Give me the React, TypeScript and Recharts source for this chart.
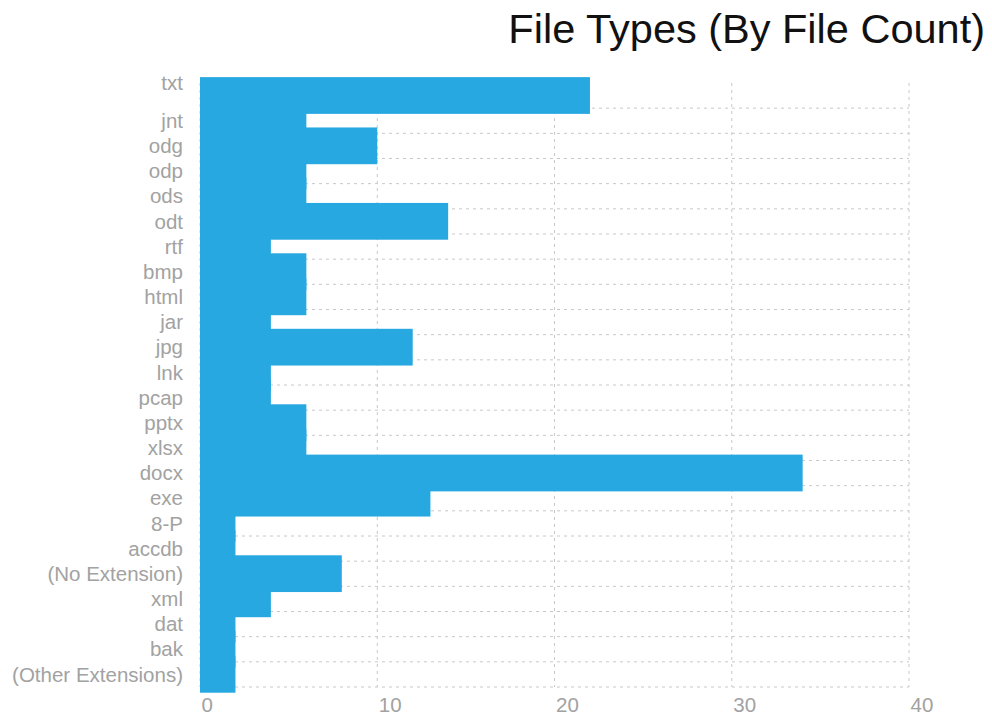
import React from "react";
import { BarChart, Bar, XAxis, YAxis, CartesianGrid } from "recharts";

const extensions = [
  "txt",
  "jnt",
  "odg",
  "odp",
  "ods",
  "odt",
  "rtf",
  "bmp",
  "html",
  "jar",
  "jpg",
  "lnk",
  "pcap",
  "pptx",
  "xlsx",
  "docx",
  "exe",
  "8-P",
  "accdb",
  "(No Extension)",
  "xml",
  "dat",
  "bak",
  "(Other Extensions)",
];
const fileCounts = [22, 6, 10, 6, 6, 14, 4, 6, 6, 4, 12, 4, 4, 6, 6, 34, 13, 2, 2, 8, 4, 2, 2, 2];
const countTicks = [0, 10, 20, 30, 40];

const BAR_COLOR = "#27a8e0";
const LABEL_COLOR = "#a2a2a2";
const FONT = "'Liberation Sans', Arial, sans-serif";

// bars in the original are taller than their band and overlap the neighbours
function TallBar(props: any) {
  const { x, y, width, height, fill } = props;
  if (!width || width <= 0) return null;
  const grow = height * 0.235;
  return <rect x={x} y={y - grow} width={width} height={height + grow * 2} fill={fill} />;
}

function CategoryTick(props: any) {
  const { x, y, payload, index } = props;
  // the first label sits at the top edge of the plot, not centred in its band
  const shift = index === 0 ? -12.5 : 0;
  return (
    <text
      x={x}
      y={y + shift}
      dy="0.35em"
      textAnchor="end"
      fill={LABEL_COLOR}
      fontSize={20.5}
      fontFamily={FONT}
    >
      {payload.value}
    </text>
  );
}

function CountTick(props: any) {
  const { x, y, payload } = props;
  return (
    <text x={x + 1.5} y={y + 25} textAnchor="start" fill={LABEL_COLOR} fontSize={20.5} fontFamily={FONT}>
      {payload.value}
    </text>
  );
}

export default function App() {
  const data = extensions.map((name, i) => ({ name, count: fileCounts[i] }));
  const n = extensions.length;

  return (
    <div style={{ position: "absolute", left: 0, top: 0, width: 992, height: 715, background: "#fff" }}>
      <div
        style={{
          position: "absolute",
          right: 7,
          top: 5,
          fontFamily: FONT,
          fontSize: 41.5,
          color: "#111",
          whiteSpace: "nowrap",
        }}
      >
        File Types (By File Count)
      </div>
      <BarChart
        width={992}
        height={715}
        data={data}
        layout="vertical"
        barCategoryGap={0}
        margin={{ top: 83, right: 83, bottom: 0, left: 0 }}
      >
        <CartesianGrid
          stroke="#c8c8c8"
          strokeDasharray="3 4"
          horizontalCoordinatesGenerator={({ offset }: any) =>
            extensions.map((_, i) => offset.top + ((i + 1) * offset.height) / n)
          }
        />
        <XAxis
          type="number"
          domain={[0, 40]}
          ticks={countTicks}
          axisLine={false}
          tickLine={false}
          tickSize={0}
          tickMargin={0}
          height={28}
          tick={<CountTick />}
        />
        <YAxis
          type="category"
          dataKey="name"
          width={200}
          interval={0}
          axisLine={false}
          tickLine={false}
          tickSize={0}
          tickMargin={17}
          tick={<CategoryTick />}
        />
        <Bar dataKey="count" fill={BAR_COLOR} isAnimationActive={false} shape={<TallBar />} />
      </BarChart>
    </div>
  );
}
